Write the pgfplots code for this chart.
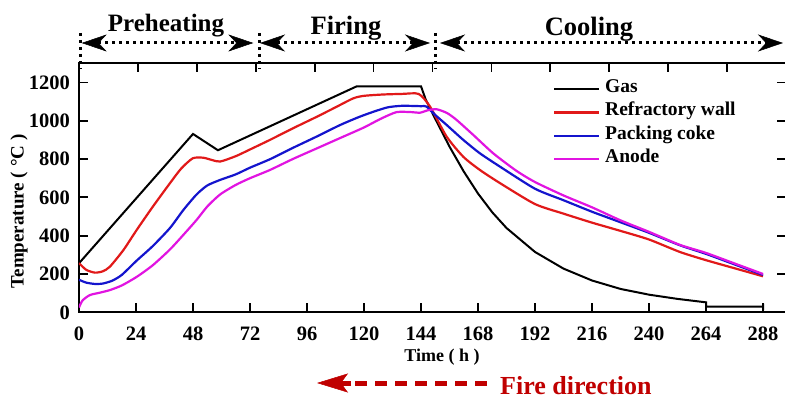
\documentclass[border=0pt]{standalone}
\usepackage{fontspec}
\setmainfont{Liberation Serif}
\usepackage{pgfplots}
\pgfplotsset{compat=1.18}
\usetikzlibrary{arrows.meta}
\definecolor{cred}{RGB}{225,25,25}
\definecolor{cblue}{RGB}{20,20,205}
\definecolor{cmag}{RGB}{225,20,225}
\definecolor{fire}{RGB}{192,0,0}
\begin{document}
\begin{tikzpicture}[x=1pt,y=1pt]
\useasboundingbox (-79,-86.7) rectangle (706,312.3);
\begin{axis}[at={(0,0)},anchor=south west, scale only axis, width=707pt, height=249.6pt,
 xmin=0,xmax=297.68, ymin=0, ymax=1303,
 xtick={0,24,...,288}, xticklabels={0,24,48,72,96,120,144,168,192,216,240,264,288},
 ytick={0,200,...,1200}, yticklabels={0,200,400,600,800,1000,1200},
 xtick pos=bottom, ytick pos=both, xticklabel pos=lower, yticklabel pos=left,
 tick align=inside, major tick length=9pt,
 axis line style={line width=1.8pt}, tick style={line width=1.8pt, black},
 tick label style={font=\bfseries\fontsize{20.5}{24}\selectfont},
 xticklabel style={inner sep=0pt, anchor=north, yshift=-14.7pt},
 yticklabel style={inner sep=0pt, anchor=east, xshift=-9pt},
 xlabel={Time ( h )},
 xlabel style={at={(axis description cs:0.5134,-0.179)}, anchor=center, font=\bfseries\fontsize{18}{21}\selectfont},
 ylabel={Temperature ( °C )},
 ylabel style={at={(axis description cs:-0.0849,0.404)}, anchor=center, font=\bfseries\fontsize{19}{22}\selectfont},
 legend style={at={(axis description cs:0.6704,0.9415)}, anchor=north west, draw=none, fill=none, inner sep=0pt, outer sep=0pt, row sep=0pt, column sep=5pt, font=\bfseries\fontsize{19.5}{23.4}\selectfont, nodes={inner sep=0pt, text height=15pt, text depth=8.4pt, anchor=west}},
 legend cell align=left,
 legend image code/.code={\draw[#1] (0pt,0pt) -- (45pt,0pt);},
]
\addplot[black, line width=2pt] coordinates {(0,256) (48,931) (58.5,846) (117,1180) (144,1180) (146,1110) (150,1010) (156,865) (162,735) (168,620) (174,522) (180,440) (192,315) (204,228) (216,166) (228,122) (240,92) (252,70) (264,52) (264,29) (288,29) (288,45) (288,12)};
\addlegendentry{Gas}
\addplot[cred, line width=2.2pt, smooth, tension=0.4] coordinates {(0,257) (3,222) (6.7,207) (10,214) (13,238) (18.7,325) (24.3,430) (31,550) (38.3,674) (43,750) (47.9,804) (52.3,807) (56,795) (59.4,787) (66,815) (72,850) (80.4,900) (90,960) (100,1020) (108,1070) (115.5,1117) (120,1130) (128,1137) (136,1140) (143,1140) (147.8,1074) (154.8,917) (161.8,812) (168.8,743) (177.3,674) (192,565) (204,515) (216,468) (228,425) (240,380) (253,315) (264,272) (276,230) (288,188)};
\addlegendentry{Refractory wall}
\addplot[cblue, line width=2.2pt, smooth, tension=0.4] coordinates {(0,170) (3,155) (6.7,148) (10,150) (14,165) (18,195) (24.3,270) (31,345) (38.3,440) (44,535) (49.5,615) (54,662) (59.4,691) (66,720) (72,755) (80.4,799) (90,858) (100,917) (110,978) (118,1020) (124,1047) (130,1070) (136,1078) (144,1076) (146.3,1074) (150,1030) (154.8,978) (161.8,900) (168.8,830) (177.3,760) (192,645) (204,585) (216,525) (228,470) (240,415) (253,350) (264,305) (276,250) (288,195)};
\addlegendentry{Packing coke}
\addplot[cmag, line width=2.2pt, smooth, tension=0.4] coordinates {(0,25) (1.5,62) (4.6,90) (9,103) (13,116) (18,140) (24.3,185) (31,245) (38.3,328) (44,405) (49.5,482) (54,552) (59.4,615) (66,665) (72,700) (80.4,743) (90,800) (100,855) (110,910) (120,965) (127,1010) (133.7,1045) (140,1045) (143.6,1042) (147,1055) (150.6,1060) (155,1040) (159,1004) (166,926) (174.4,830) (184,740) (192,680) (204,610) (216,548) (228,480) (240,420) (253,352) (264,310) (276,255) (288,200)};
\addlegendentry{Anode}
\end{axis}
\begin{axis}[at={(0,0)},anchor=south west, scale only axis, width=707pt, height=249.6pt,
 xmin=0,xmax=12, ymin=0,ymax=1, axis x line*=top, hide y axis,
 xtick={0,...,12}, xticklabels={}, tick align=inside, major tick length=9pt,
 axis line style={line width=1.8pt}, tick style={line width=1.8pt, black}]
\addplot[draw=none] coordinates {(0,0)};
\end{axis}
% phase annotations
\foreach \xx in {1.7,180,356} {
  \draw[line width=3pt, dash pattern=on 3pt off 4pt] (\xx,279.3) -- (\xx,243);
}
\tikzset{ph/.style={line width=3pt, dash pattern=on 3pt off 4pt,
  {Stealth[length=25pt,width=17pt,inset=8pt,line width=0.5pt]}-{Stealth[length=25pt,width=17pt,inset=8pt,line width=0.5pt]}}}
\draw[ph] (2.7,269.3) -- (174.3,269.3);
\draw[ph] (181,269.3) -- (351,269.3);
\draw[ph] (361,269.3) -- (704,269.3);
\node[anchor=base, font=\bfseries\fontsize{25}{30}\selectfont, inner sep=0pt] at (87,280.3) {Preheating};
\node[anchor=base, font=\bfseries\fontsize{26.5}{30}\selectfont, inner sep=0pt] at (267,277.5) {Firing};
\node[anchor=base, font=\bfseries\fontsize{26.5}{30}\selectfont, inner sep=0pt] at (510,276.3) {Cooling};
% fire direction
\draw[fire, line width=5pt, dash pattern=on 12pt off 8pt] (408,-70.7) -- (276,-70.7);
\draw[fire, line width=5pt, -{Stealth[length=31pt,width=19pt,inset=7pt,line width=0.5pt]}] (272,-70.7) -- (238,-70.7);
\node[anchor=base west, text=fire, font=\bfseries\fontsize{26}{30}\selectfont, inner sep=0pt] at (421,-82.5) {Fire direction};
\end{tikzpicture}
\end{document}
